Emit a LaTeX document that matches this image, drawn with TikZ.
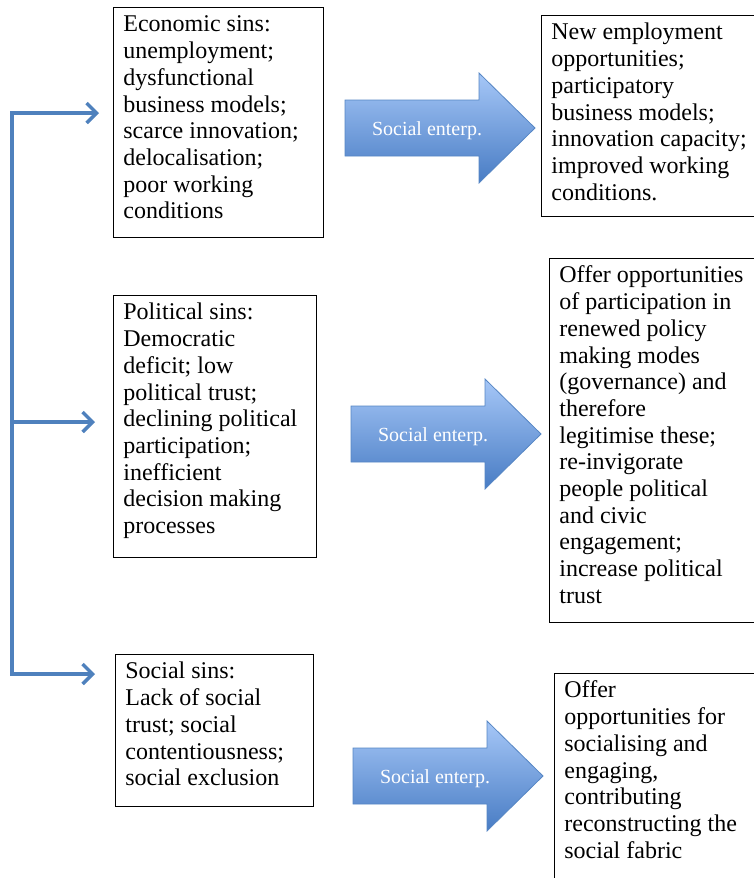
\documentclass[tikz,border=0pt]{standalone}
\usepackage{fontspec}
\setmainfont{Liberation Serif}
\usetikzlibrary{arrows.meta}
\definecolor{linkblue}{RGB}{79,129,189}
\definecolor{arrtop}{RGB}{166,199,247}
\definecolor{arrbot}{RGB}{72,124,196}
\definecolor{arredge}{RGB}{86,134,196}
\tikzset{
  txtbox/.style={draw, line width=0.8pt, anchor=north west, inner xsep=10pt, inner ysep=0pt, align=left},
  conn/.style={draw=linkblue, line width=3.5pt, {Straight Barb[length=10pt,width=20pt]}-{Straight Barb[length=10pt,width=20pt]}},
  connone/.style={draw=linkblue, line width=3.5pt, -{Straight Barb[length=10pt,width=20pt]}},
  bigarr/.style={draw=arredge, line width=0.8pt, top color=arrtop, bottom color=arrbot},
  arrlabel/.style={text=white, font=\fontsize{20}{24}\selectfont, anchor=base, inner sep=0pt}
}
\newcommand{\mybox}[6]{%
  \node[txtbox] (#1) at (#2,#3) {\parbox[c][#5pt][t]{\dimexpr#4pt-20pt\relax}{\raggedright\fontsize{24}{26.7}\selectfont\rule{0pt}{24.5pt}#6}};}
\newcommand{\myarrow}[3]{%
  \path[bigarr] ({#1},{#2-28}) -- ({#1+134},{#2-28}) -- ({#1+134},{#2-55}) -- ({#1+190},{#2}) -- ({#1+134},{#2+55}) -- ({#1+134},{#2+28}) -- ({#1},{#2+28}) -- cycle;
  \node[arrlabel] (#3) at ({#1+82},{#2+7}) {Social enterp.};}
\begin{document}
\begin{tikzpicture}[x=1pt,y=-1pt]
\useasboundingbox (0,0) rectangle (753,878);
\mybox{econ}{113}{7}{210}{230}{Economic sins:\\unemployment;\\dysfunctional\\business models;\\scarce innovation;\\delocalisation;\\poor working\\conditions}
\mybox{newemp}{541}{15}{225}{201}{New employment\\opportunities;\\participatory\\business models;\\innovation capacity;\\improved working\\conditions.}
\mybox{pol}{113}{295}{203}{262}{Political sins:\\Democratic\\deficit; low\\political trust;\\declining political\\participation;\\inefficient\\decision making\\processes}
\mybox{polout}{549}{258}{220}{364}{Offer opportunities\\of participation in\\renewed policy\\making modes\\(governance) and\\therefore\\legitimise these;\\re-invigorate\\people political\\and civic\\engagement;\\increase political\\trust}
\mybox{soc}{115}{654}{198}{152}{Social sins:\\Lack of social\\trust; social\\contentiousness;\\social exclusion}
\mybox{socout}{554}{673}{215}{230}{Offer\\opportunities for\\socialising and\\engaging,\\contributing\\reconstructing the\\social fabric}
\myarrow{345}{128}{se1}
\myarrow{351}{434}{se2}
\myarrow{353}{776}{se3}
\coordinate (bartop) at (12,113);
\coordinate (barmid) at (12,422);
\coordinate (barbot) at (12,674);
\draw[conn, shorten <=20pt, shorten >=14pt] (soc.west |- barbot) -- (barbot) -- (bartop) -- (econ.west |- bartop);
\draw[connone, shorten >=18pt] (barmid) -- (pol.west |- barmid);
\end{tikzpicture}
\end{document}
